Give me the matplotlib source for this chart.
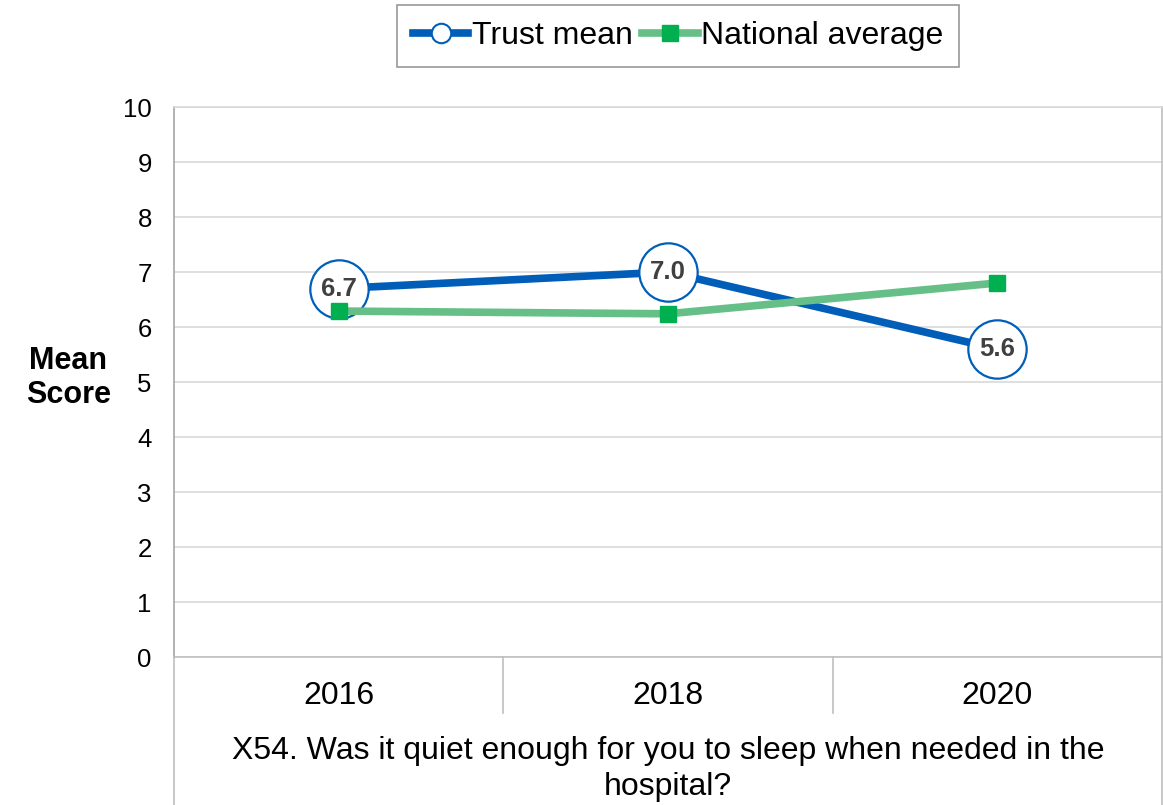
import matplotlib.pyplot as plt
from matplotlib.lines import Line2D

plt.rcParams["font.family"] = ["Liberation Sans", "DejaVu Sans"]

years = ["2016", "2018", "2020"]
trust_mean = [6.7, 7.0, 5.6]
national_avg = [6.29, 6.24, 6.8]
question = "X54. Was it quiet enough for you to sleep when needed in the\nhospital?"

BLUE = "#005EB8"
GREEN_LINE = "#66BF87"
GREEN_MARK = "#00B050"
GRID = "#D9D9D9"
BORDER = "#BFBFBF"

fig = plt.figure(figsize=(11.63, 8.05), dpi=100)
ax = fig.add_axes([174 / 1163, 148 / 805, 988 / 1163, 550 / 805])

x = list(range(len(years)))

# trust series: thick line with white circular value labels
ax.plot(x, trust_mean, color=BLUE, lw=5.5, zorder=3, solid_capstyle="butt")
ax.plot(x, trust_mean, ls="none", marker="o", ms=42, mfc="white", mec=BLUE,
        mew=1.6, zorder=4)
for xi, v in zip(x, trust_mean):
    ax.text(xi, v, f"{v:.1f}", ha="center", va="center", fontsize=18.5,
            fontweight="bold", color="#404040", zorder=5)

# national average on top
ax.plot(x, national_avg, color=GREEN_LINE, lw=5.5, marker="s", ms=11,
        mfc=GREEN_MARK, mec=GREEN_MARK, zorder=6)

ax.set_xlim(-0.5, len(years) - 0.5)
ax.set_ylim(0, 10)
ax.set_yticks(range(0, 11))
ax.set_xticks([])
ax.tick_params(axis="y", length=0, pad=16, labelsize=18.5)
ax.yaxis.grid(True, color=GRID, lw=1.2)
ax.set_axisbelow(True)

ax.spines["top"].set_color(GRID)
ax.spines["right"].set_color(BORDER)
ax.spines["left"].set_color("#A6A6A6")
ax.spines["bottom"].set_color(BORDER)
for s in ax.spines.values():
    s.set_linewidth(1.2)

# category table under the axis
xt = ax.get_xaxis_transform()
for b in [0.5, 1.5]:
    ax.plot([b, b], [0, -0.102], transform=xt, color=BORDER, lw=1.2, clip_on=False)
for b in [-0.5, len(years) - 0.5]:
    ax.plot([b, b], [0, -0.3], transform=xt, color=BORDER, lw=1.2, clip_on=False)
for xi, yr in zip(x, years):
    ax.text(xi, -0.071, yr, transform=xt, ha="center", va="center", fontsize=23)
ax.text(1, -0.204, question, transform=xt, ha="center", va="center",
        fontsize=23, linespacing=1.25)

ax.text(-0.107, 0.507, "Mean\nScore", transform=ax.transAxes, ha="center",
        va="center", fontsize=22, fontweight="bold", linespacing=1.15)

handles = [
    Line2D([], [], color=BLUE, lw=5.5, marker="o", ms=14, mfc="white",
           mec=BLUE, mew=1.5),
    Line2D([], [], color=GREEN_LINE, lw=5.5, marker="s", ms=11,
           mfc=GREEN_MARK, mec=GREEN_MARK),
]
leg = fig.legend(handles, ["Trust mean", "National average"], loc="center",
                 bbox_to_anchor=(678 / 1163, 1 - 36 / 805), ncol=2, fontsize=23,
                 handlelength=1.75, handletextpad=0.1, columnspacing=0.3,
                 fancybox=False, borderpad=0.5, borderaxespad=0)
leg.get_frame().set_edgecolor("#7F7F7F")
leg.get_frame().set_linewidth(1.2)

fig.savefig("out.png", dpi=100)
